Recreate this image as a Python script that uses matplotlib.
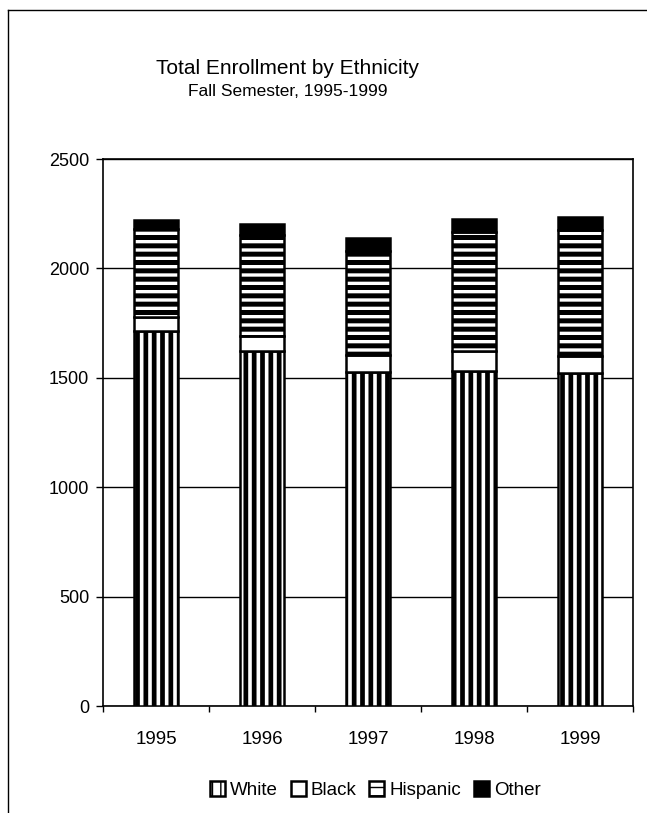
import matplotlib
matplotlib.use('Agg')
import matplotlib.pyplot as plt
from matplotlib.lines import Line2D
import numpy as np

plt.rcParams['font.family'] = ['Liberation Sans', 'DejaVu Sans']

years = ['1995', '1996', '1997', '1998', '1999']
white = [1716, 1622, 1526, 1530, 1523]
black = [63, 69, 79, 92, 76]
hispanic = [399, 460, 474, 544, 576]
other = [43, 50, 58, 61, 60]

groups = ['White', 'Black', 'Hispanic', 'Other']
values = [white, black, hispanic, other]
# fill, hatch, hatch linewidth for each group
styles = {
    'White': ('white', '||', 3.4),
    'Black': ('white', '', 1.0),
    'Hispanic': ('white', '--', 3.6),
    'Other': ('black', '', 1.0),
}

fig = plt.figure(figsize=(6.47, 8.13), dpi=100, facecolor='w')
ax = fig.add_axes([0.1592, 0.1316, 0.8192, 0.6728])

x = np.arange(len(years))
bottom = np.zeros(len(years))
for g, v in zip(groups, values):
    fc, h, hl = styles[g]
    with plt.rc_context({'hatch.linewidth': hl, 'hatch.color': 'black'}):
        ax.bar(x, v, width=0.41, bottom=bottom, color=fc, edgecolor='black',
               hatch=h, linewidth=1.8, label=g, zorder=3)
    bottom += np.array(v)

ax.set_xlim(-0.5, len(years) - 0.5)
ax.set_ylim(0, 2500)
ax.set_yticks([0, 500, 1000, 1500, 2000, 2500])
ax.yaxis.grid(True, color='black', linewidth=1.0, zorder=0)
ax.set_axisbelow(True)
for s in ax.spines.values():
    s.set_color('black')
    s.set_linewidth(1.2)

ax.set_xticks(x)
ax.set_xticklabels(years)
ax.set_xticks(np.arange(-0.5, len(years), 1.0), minor=True)
ax.tick_params(axis='x', which='major', length=0, pad=18, labelsize=13.5)
ax.tick_params(axis='x', which='minor', length=4, direction='out', width=1)
ax.tick_params(axis='y', length=5, direction='out', width=1, pad=5, labelsize=13)

fig.text(0.445, 1 - 68 / 813, 'Total Enrollment by Ethnicity', ha='center', va='center', fontsize=15)
fig.text(0.445, 1 - 92 / 813, 'Fall Semester, 1995-1999', ha='center', va='center', fontsize=12.5)

leg = fig.legend(loc='center', bbox_to_anchor=(0.58, 1 - 790 / 813), ncol=4, frameon=False,
                 fontsize=13.5, handlelength=0.8, handleheight=0.8, handletextpad=0.25,
                 columnspacing=0.7)

# scanned page border: top and left lines
fig.add_artist(Line2D([8 / 647, 1.0], [1 - 10 / 813, 1 - 10 / 813], color='black', linewidth=1.0))
fig.add_artist(Line2D([8 / 647, 8 / 647], [0.0, 1 - 10 / 813], color='black', linewidth=1.0))

fig.savefig('out.png', dpi=100, facecolor='w')
